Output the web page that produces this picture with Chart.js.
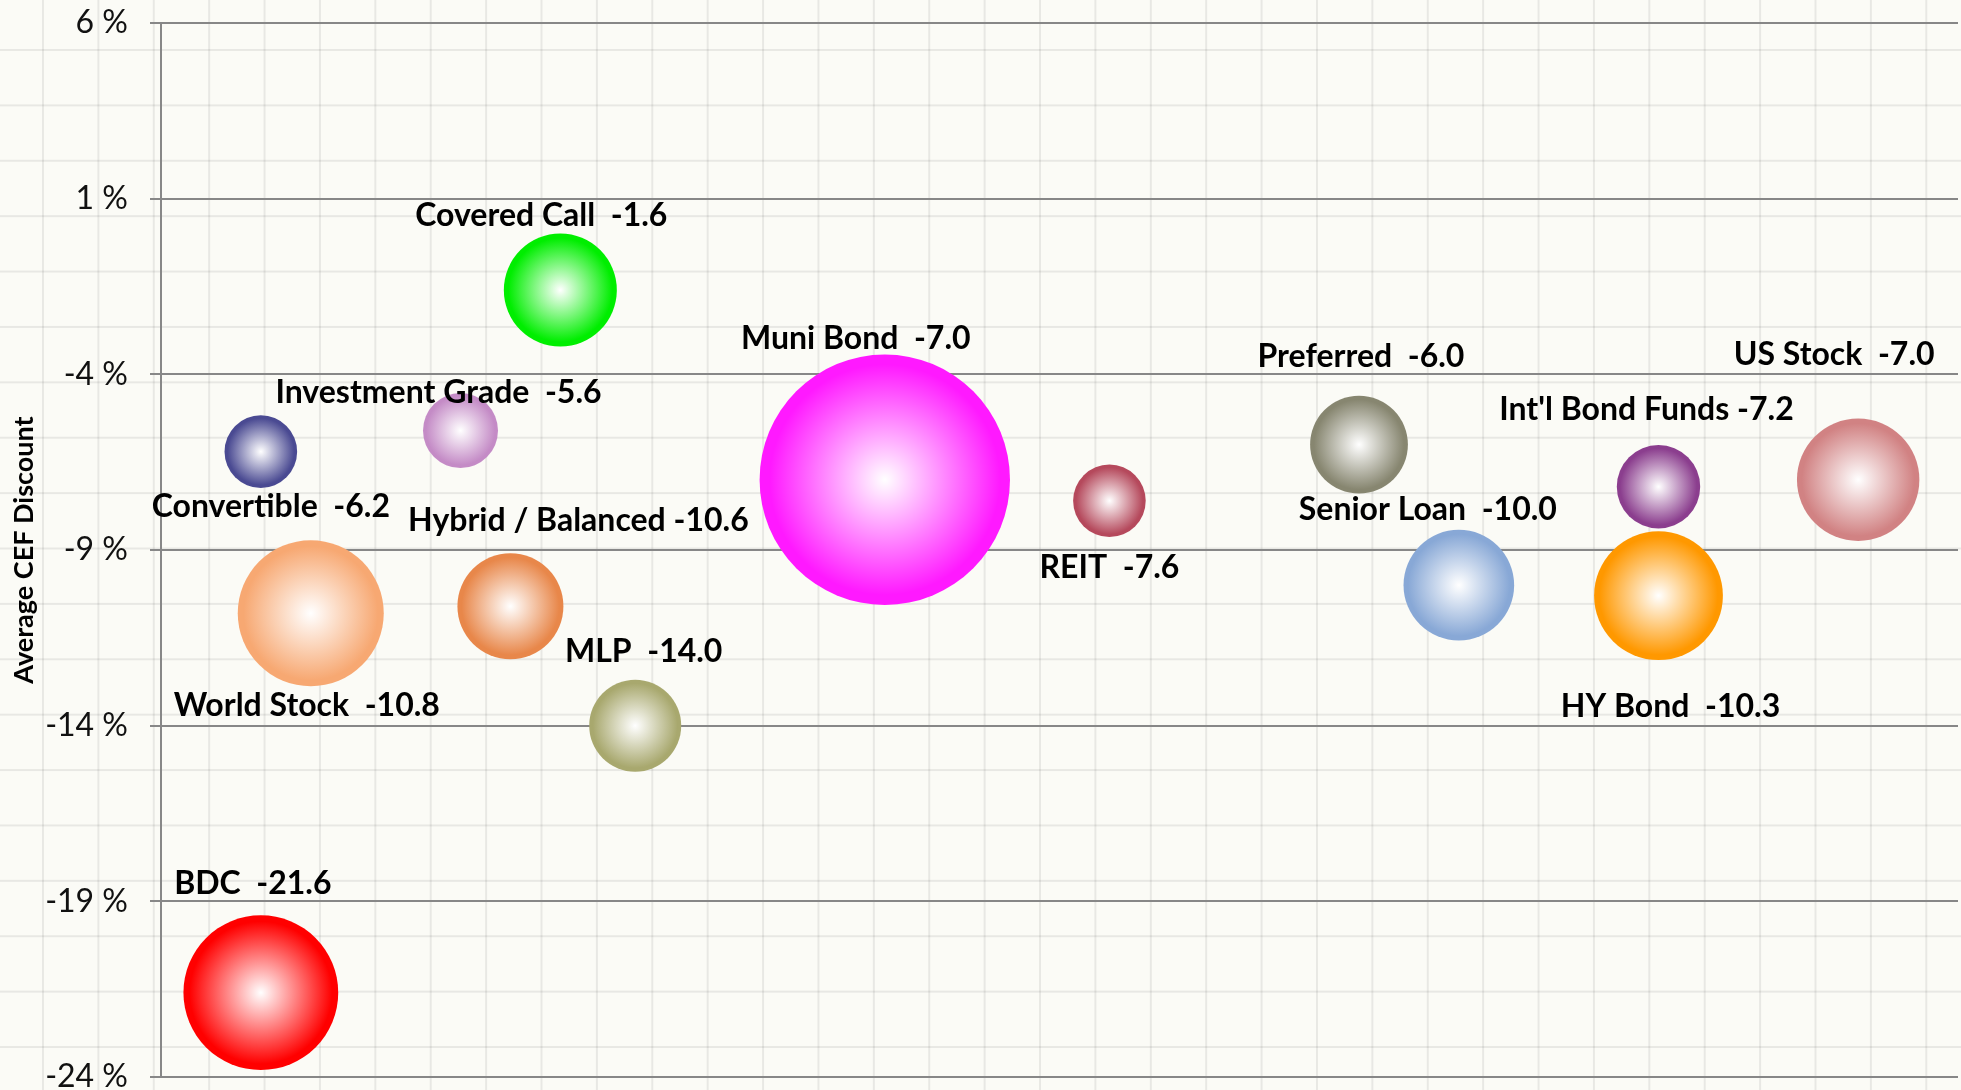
<!DOCTYPE html>
<html>
<head>
<meta charset="utf-8">
<script src="https://cdn.jsdelivr.net/npm/chart.js@4/dist/chart.umd.min.js"></script>
<style>
html,body{margin:0;padding:0;width:1961px;height:1090px;overflow:hidden;}
body{
  background-color:#FBFBF6;
  background-image:
    linear-gradient(to right, rgba(0,0,0,0.075) 2px, transparent 2px),
    linear-gradient(to bottom, rgba(0,0,0,0.075) 2px, transparent 2px);
  background-size:55.4px 55.4px;
  background-position:42px 49px;
}
canvas{display:block;}
</style>
</head>
<body>
<canvas id="c" width="1961" height="1090"></canvas>
<script>
// ---- data ----
const categories = ['Covered Call','Investment Grade','Convertible','Hybrid / Balanced','World Stock','MLP','BDC','Muni Bond','REIT','Preferred','Senior Loan',"Int'l Bond Funds",'HY Bond','US Stock'];
const xPosition  = [8, 6, 2, 7, 3, 9.5, 2, 14.5, 19, 24, 26, 30, 30, 34];
const discount   = [-1.6, -5.6, -6.2, -10.6, -10.8, -14.0, -21.6, -7.0, -7.6, -6.0, -10.0, -7.2, -10.3, -7.0];
const bubbleSize = [56.5, 37.5, 36.3, 53, 73, 46, 77.4, 125.2, 36.3, 48.9, 55.3, 41.7, 64.4, 61.2];
const yTicks     = [-24, -19, -14, -9, -4, 1, 6];
const labelSep   = ['  ','  ','  ',' ','  ','  ','  ','  ','  ','  ','  ',' ','  ','  '];

// ---- styles / layout ----
const colors = ['#00EE00','#C48BC6','#4A4A92','#E8874A','#F7A872','#A8A86E','#FF0000','#FF19FF','#B5495C','#878670','#88A8D6','#8B3E8E','#FF9800','#D18283'];
const labelOffset = [[-19,-76],[-22,-39],[10,54],[68,-87],[-4,91],[8.5,-75],[-8,-110],[-29,-142],[0,66],[2,-89],[-31,-77],[-12,-78],[12,110],[-24,-126]];

const points = categories.map((n,i)=>({x:xPosition[i], y:discount[i], r:bubbleSize[i]}));

function bubbleFill(c){
  const i = c.dataIndex;
  if (c.type !== 'data') return colors[0];
  const chart = c.chart;
  const xs = chart.scales.x, ys = chart.scales.y;
  if (!chart.chartArea || !xs || !ys) return colors[i];
  const cx = xs.getPixelForValue(c.raw.x), cy = ys.getPixelForValue(c.raw.y), r = c.raw.r;
  const g = chart.ctx.createRadialGradient(cx, cy, 0, cx, cy, r);
  g.addColorStop(0, '#ffffff');
  g.addColorStop(0.92, colors[i]);
  g.addColorStop(1, colors[i]);
  return g;
}

const labelPlugin = {
  id: 'bubbleLabels',
  afterDatasetsDraw(chart){
    const ctx = chart.ctx;
    const meta = chart.getDatasetMeta(0);
    ctx.save();
    ctx.font = 'bold 32px Lato';
    ctx.fillStyle = '#000';
    ctx.textAlign = 'center';
    ctx.textBaseline = 'alphabetic';
    meta.data.forEach((el, i) => {
      const t = categories[i] + labelSep[i] + discount[i].toFixed(1);
      ctx.fillText(t, el.x + labelOffset[i][0], el.y + labelOffset[i][1] + 11.5);
    });
    ctx.restore();
  }
};

new Chart(document.getElementById('c'), {
  type: 'bubble',
  data: {
    datasets: [{
      data: points,
      backgroundColor: bubbleFill,
      borderWidth: 0,
      hoverBorderWidth: 0,
      clip: false
    }]
  },
  options: {
    responsive: false,
    animation: false,
    events: [],
    layout: { autoPadding: false, padding: { top: 23, right: 3, bottom: 13, left: 0 } },
    plugins: { legend: { display: false }, tooltip: { enabled: false } },
    scales: {
      x: { type: 'linear', min: 0, max: 36, display: false },
      y: {
        type: 'linear', min: -24, max: 6,
        afterBuildTicks: s => { s.ticks = yTicks.map(v => ({ value: v })); },
        afterFit: s => { s.width = 161; s.paddingTop = 0; s.paddingBottom = 0; },
        ticks: { callback: v => v + ' %', font: { family: 'Lato', size: 32 }, color: '#111', padding: 22 },
        grid: { color: '#878787', lineWidth: 2, tickLength: 11, drawTicks: true },
        border: { color: '#878787', width: 2 },
        title: { display: true, text: 'Average CEF Discount', font: { family: 'Lato', size: 27, weight: 'bold' }, color: '#000', padding: { top: 8, bottom: 0 } }
      }
    }
  },
  plugins: [labelPlugin]
});
</script>
</body>
</html>
